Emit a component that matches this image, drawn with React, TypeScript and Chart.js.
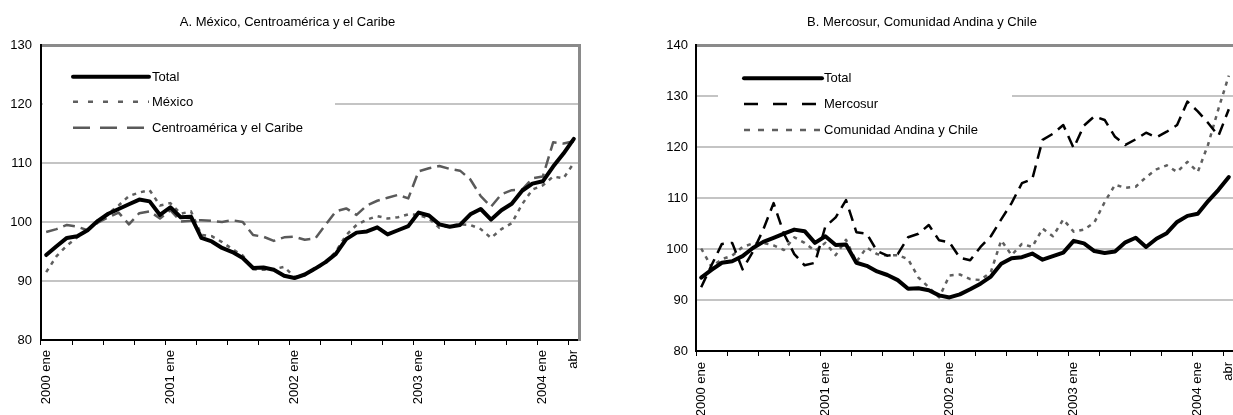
import React, { useEffect, useRef } from 'react';
import { Chart, registerables } from 'chart.js';

Chart.register(...registerables);

// ---------- DATA ----------
const categories = [
  '2000 ene', '2000 feb', '2000 mar', '2000 abr', '2000 may', '2000 jun', '2000 jul', '2000 ago', '2000 sep', '2000 oct', '2000 nov', '2000 dic',
  '2001 ene', '2001 feb', '2001 mar', '2001 abr', '2001 may', '2001 jun', '2001 jul', '2001 ago', '2001 sep', '2001 oct', '2001 nov', '2001 dic',
  '2002 ene', '2002 feb', '2002 mar', '2002 abr', '2002 may', '2002 jun', '2002 jul', '2002 ago', '2002 sep', '2002 oct', '2002 nov', '2002 dic',
  '2003 ene', '2003 feb', '2003 mar', '2003 abr', '2003 may', '2003 jun', '2003 jul', '2003 ago', '2003 sep', '2003 oct', '2003 nov', '2003 dic',
  '2004 ene', '2004 feb', '2004 mar', '2004 abr',
];

const labeledCategories = ['2000 ene', '2001 ene', '2002 ene', '2003 ene', '2004 ene', '2004 abr'];
const labeledTexts = ['2000 ene', '2001 ene', '2002 ene', '2003 ene', '2004 ene', 'abr'];

const totalAL = [
  94.4, 95.9, 97.3, 97.6, 98.6, 100.2, 101.4, 102.2, 103.0, 103.8, 103.5, 101.2,
  102.5, 100.8, 100.9, 97.3, 96.7, 95.6, 94.9, 93.9, 92.2, 92.3, 91.9, 90.9,
  90.5, 91.1, 92.1, 93.2, 94.6, 97.1, 98.2, 98.4, 99.1, 97.9, 98.6, 99.3,
  101.6, 101.1, 99.6, 99.2, 99.5, 101.3, 102.2, 100.4, 102.0, 103.1, 105.3, 106.5,
  106.9, 109.4, 111.6, 114.1,
];

const mexico = [
  91.5, 94.2, 96.0, 97.4, 98.6, 100.2, 101.4, 102.8, 104.4, 105.0, 105.4, 102.8,
  103.2, 101.4, 101.8, 97.8, 97.6, 96.6, 95.4, 94.3, 92.0, 91.9, 92.0, 92.4,
  90.7, 91.0, 92.0, 93.0, 95.0, 97.8, 99.5, 100.4, 101.0, 100.6, 100.8, 101.3,
  101.2, 100.6, 99.0, 99.4, 99.6, 99.5, 98.8, 97.3, 98.8, 99.8, 103.0, 105.5,
  106.2, 107.7, 107.4, 110.0,
];

const centroamerica = [
  98.3, 98.8, 99.5, 99.2, 98.6, 99.9, 100.8, 101.6, 99.6, 101.5, 101.8, 100.6,
  102.0, 100.1, 100.2, 100.3, 100.2, 100.0, 100.3, 100.0, 97.8, 97.5, 96.8, 97.4,
  97.5, 97.0, 97.2, 99.5, 101.8, 102.3, 101.2, 102.8, 103.6, 104.1, 104.6, 104.0,
  108.6, 109.1, 109.5, 109.0, 108.7, 107.2, 104.4, 102.6, 104.7, 105.4, 105.5, 107.4,
  107.7, 113.5, 113.3, 113.7,
];

const mercosur = [
  92.5, 96.8, 101.0, 101.2, 96.0, 99.5, 103.8, 109.0, 103.0, 99.0, 96.8, 97.3,
  104.4, 106.2, 109.6, 103.3, 103.0, 99.6, 98.7, 99.0, 102.3, 103.0, 104.7, 101.7,
  101.3, 98.3, 97.8, 100.4, 102.5, 105.8, 109.0, 112.9, 113.7, 121.4, 122.6, 124.3,
  119.8, 124.2, 126.0, 125.3, 122.0, 120.4, 121.5, 122.8, 121.9, 123.0, 124.3, 128.9,
  127.0, 124.7, 122.2, 127.4,
];

const andinaChile = [
  100.1, 96.5, 98.0, 98.7, 100.4, 101.1, 101.2, 100.7, 99.8, 102.3, 101.2, 99.6,
  101.2, 98.8, 101.8, 97.5, 100.3, 99.0, 98.7, 98.8, 98.0, 94.4, 92.5, 90.5,
  94.8, 95.0, 94.1, 93.9, 95.5, 101.7, 98.8, 101.0, 100.4, 104.0, 102.5, 105.8,
  103.4, 103.8, 105.2, 109.2, 112.6, 112.0, 112.2, 114.1, 115.6, 116.4, 115.1, 117.1,
  115.1, 120.5, 127.5, 134.0,
];

const yRangeA = [80, 130];
const yRangeB = [80, 140];
const yStep = 10;

const titleA = 'A. México, Centroamérica y el Caribe';
const titleB = 'B. Mercosur, Comunidad Andina y Chile';

// ---------- STYLE ----------
const FONT = '"Liberation Sans", Arial, Helvetica, sans-serif';
Chart.defaults.font.family = FONT;

const lineLegendPlugin = {
  id: 'lineLegend',
  beforeDatasetsDraw(chart: any, _args: any, opts: any) {
    if (!opts || !opts.box) return;
    const ctx = chart.ctx;
    ctx.save();
    ctx.fillStyle = '#ffffff';
    ctx.fillRect(opts.box[0], opts.box[1], opts.box[2], opts.box[3]);
    chart.data.datasets.forEach((ds: any, i: number) => {
      const y = opts.rows[i];
      ctx.beginPath();
      ctx.strokeStyle = ds.borderColor;
      ctx.lineWidth = ds.borderWidth;
      ctx.setLineDash(opts.dashes[i] || []);
      ctx.lineCap = (opts.dashes[i] || []).length ? 'butt' : 'round';
      ctx.moveTo(opts.x0, y);
      ctx.lineTo(opts.x1, y);
      ctx.stroke();
      ctx.setLineDash([]);
      ctx.fillStyle = '#000';
      ctx.font = '13px ' + FONT;
      ctx.textBaseline = 'middle';
      ctx.textAlign = 'left';
      ctx.fillText(ds.label, opts.textX, y + 0.5);
    });
    ctx.restore();
  },
};

function buildConfig(p: any) {
  const [min, max] = p.yRange;
  return {
    type: 'line',
    data: {
      labels: categories,
      datasets: p.series.map((s: any) => ({
        label: s.label,
        data: s.data,
        borderColor: s.color,
        borderWidth: s.width,
        borderDash: s.dash,
        borderCapStyle: s.dash.length ? 'butt' : 'round',
        borderJoinStyle: 'round',
        pointRadius: 0,
        fill: false,
        tension: 0,
      })),
    },
    plugins: [lineLegendPlugin],
    options: {
      responsive: false,
      animation: false,
      events: [],
      layout: { padding: { left: 0, right: 0, top: p.top, bottom: 0 } },
      plugins: {
        legend: { display: false },
        tooltip: { enabled: false },
        title: { display: false },
        lineLegend: p.legend,
      },
      scales: {
        x: {
          type: 'category',
          offset: true,
          grid: {
            offset: true,
            drawOnChartArea: false,
            drawTicks: true,
            tickLength: 5,
            lineWidth: 1,
            color: (c: any) => (c.index % 3 === 0 && c.index < categories.length ? '#000' : 'rgba(0,0,0,0)'),
          },
          border: { color: '#000', width: 2 },
          ticks: {
            autoSkip: false,
            maxRotation: 90,
            minRotation: 90,
            padding: p.xPad,
            color: '#000',
            font: { family: FONT, size: 13 },
            callback: (_v: any, i: number) => {
              const k = labeledCategories.indexOf(categories[i]);
              return k >= 0 ? labeledTexts[k] : '';
            },
          },
          afterFit: (s: any) => {
            s.height = p.xHeight;
            s.paddingLeft = 0;
            s.paddingRight = 0;
          },
        },
        y: {
          min,
          max,
          ticks: { stepSize: yStep, padding: p.yPad, color: '#000', font: { family: FONT, size: 13 } },
          grid: {
            drawTicks: false,
            color: (c: any) => (c.tick.value === max ? '#8a8a8a' : c.tick.value === min ? 'rgba(0,0,0,0)' : '#c4c4c4'),
            lineWidth: (c: any) => (c.tick.value === max ? 3 : 2),
          },
          border: { color: '#000', width: 2 },
          afterFit: (s: any) => {
            s.width = p.yWidth;
            s.paddingTop = 0;
            s.paddingBottom = 0;
          },
        },
        y2: {
          position: 'right',
          min,
          max,
          ticks: { display: false },
          grid: { drawOnChartArea: false, drawTicks: false },
          border: { color: '#8a8a8a', width: 3 },
          afterFit: (s: any) => {
            s.width = p.rightGap;
            s.paddingTop = 0;
            s.paddingBottom = 0;
          },
        },
      },
    },
  };
}

const panelA = {
  yRange: yRangeA,
  top: 45,
  xHeight: 75,
  xPad: 5,
  yPad: 9,
  yWidth: 41,
  rightGap: 21,
  series: [
    { label: 'Total', data: totalAL, color: '#000000', width: 4, dash: [] },
    { label: 'México', data: mexico, color: '#5f5f5f', width: 2.5, dash: [4, 5] },
    { label: 'Centroamérica y el Caribe', data: centroamerica, color: '#5a5a5a', width: 2.5, dash: [12, 6] },
  ],
  legend: {
    box: [43, 60, 292, 84],
    rows: [76.7, 101.7, 127.7],
    x0: 73,
    x1: 149,
    textX: 152,
    dashes: [[], [5, 10], [17, 10]],
  },
};

const panelB = {
  yRange: yRangeB,
  top: 45,
  xHeight: 64,
  xPad: 6,
  yPad: 8,
  yWidth: 76,
  rightGap: 2,
  series: [
    { label: 'Total', data: totalAL, color: '#000000', width: 4, dash: [] },
    { label: 'Mercosur', data: mercosur, color: '#000000', width: 2.5, dash: [12, 7] },
    { label: 'Comunidad Andina y Chile', data: andinaChile, color: '#5f5f5f', width: 2.5, dash: [4, 5] },
  ],
  legend: {
    box: [98, 62, 294, 82],
    rows: [78.3, 104, 130],
    x0: 124,
    x1: 202,
    textX: 204,
    dashes: [[], [14, 15], [6, 8]],
  },
};

function Panel({ cfg, left, width }: { cfg: any; left: number; width: number }) {
  const ref = useRef<HTMLCanvasElement | null>(null);
  useEffect(() => {
    if (!ref.current) return;
    const chart = new Chart(ref.current, buildConfig(cfg) as any);
    return () => chart.destroy();
  }, [cfg]);
  return (
    <canvas
      ref={ref}
      width={width}
      height={415}
      style={{ position: 'absolute', left, top: 0, width, height: 415 }}
    />
  );
}

const titleStyle: React.CSSProperties = {
  position: 'absolute',
  top: 14,
  height: 16,
  lineHeight: '16px',
  fontFamily: FONT,
  fontSize: 13,
  color: '#000',
  textAlign: 'center',
  whiteSpace: 'nowrap',
};

export default function App() {
  return (
    <div
      style={{
        position: 'fixed',
        left: 0,
        top: 0,
        width: 1233,
        height: 415,
        overflow: 'hidden',
        background: '#fff',
      }}
    >
      <Panel cfg={panelA} left={0} width={600} />
      <Panel cfg={panelB} left={620} width={616} />
      <div style={{ ...titleStyle, left: 0, width: 575 }}>{titleA}</div>
      <div style={{ ...titleStyle, left: 722, width: 400 }}>{titleB}</div>
    </div>
  );
}
